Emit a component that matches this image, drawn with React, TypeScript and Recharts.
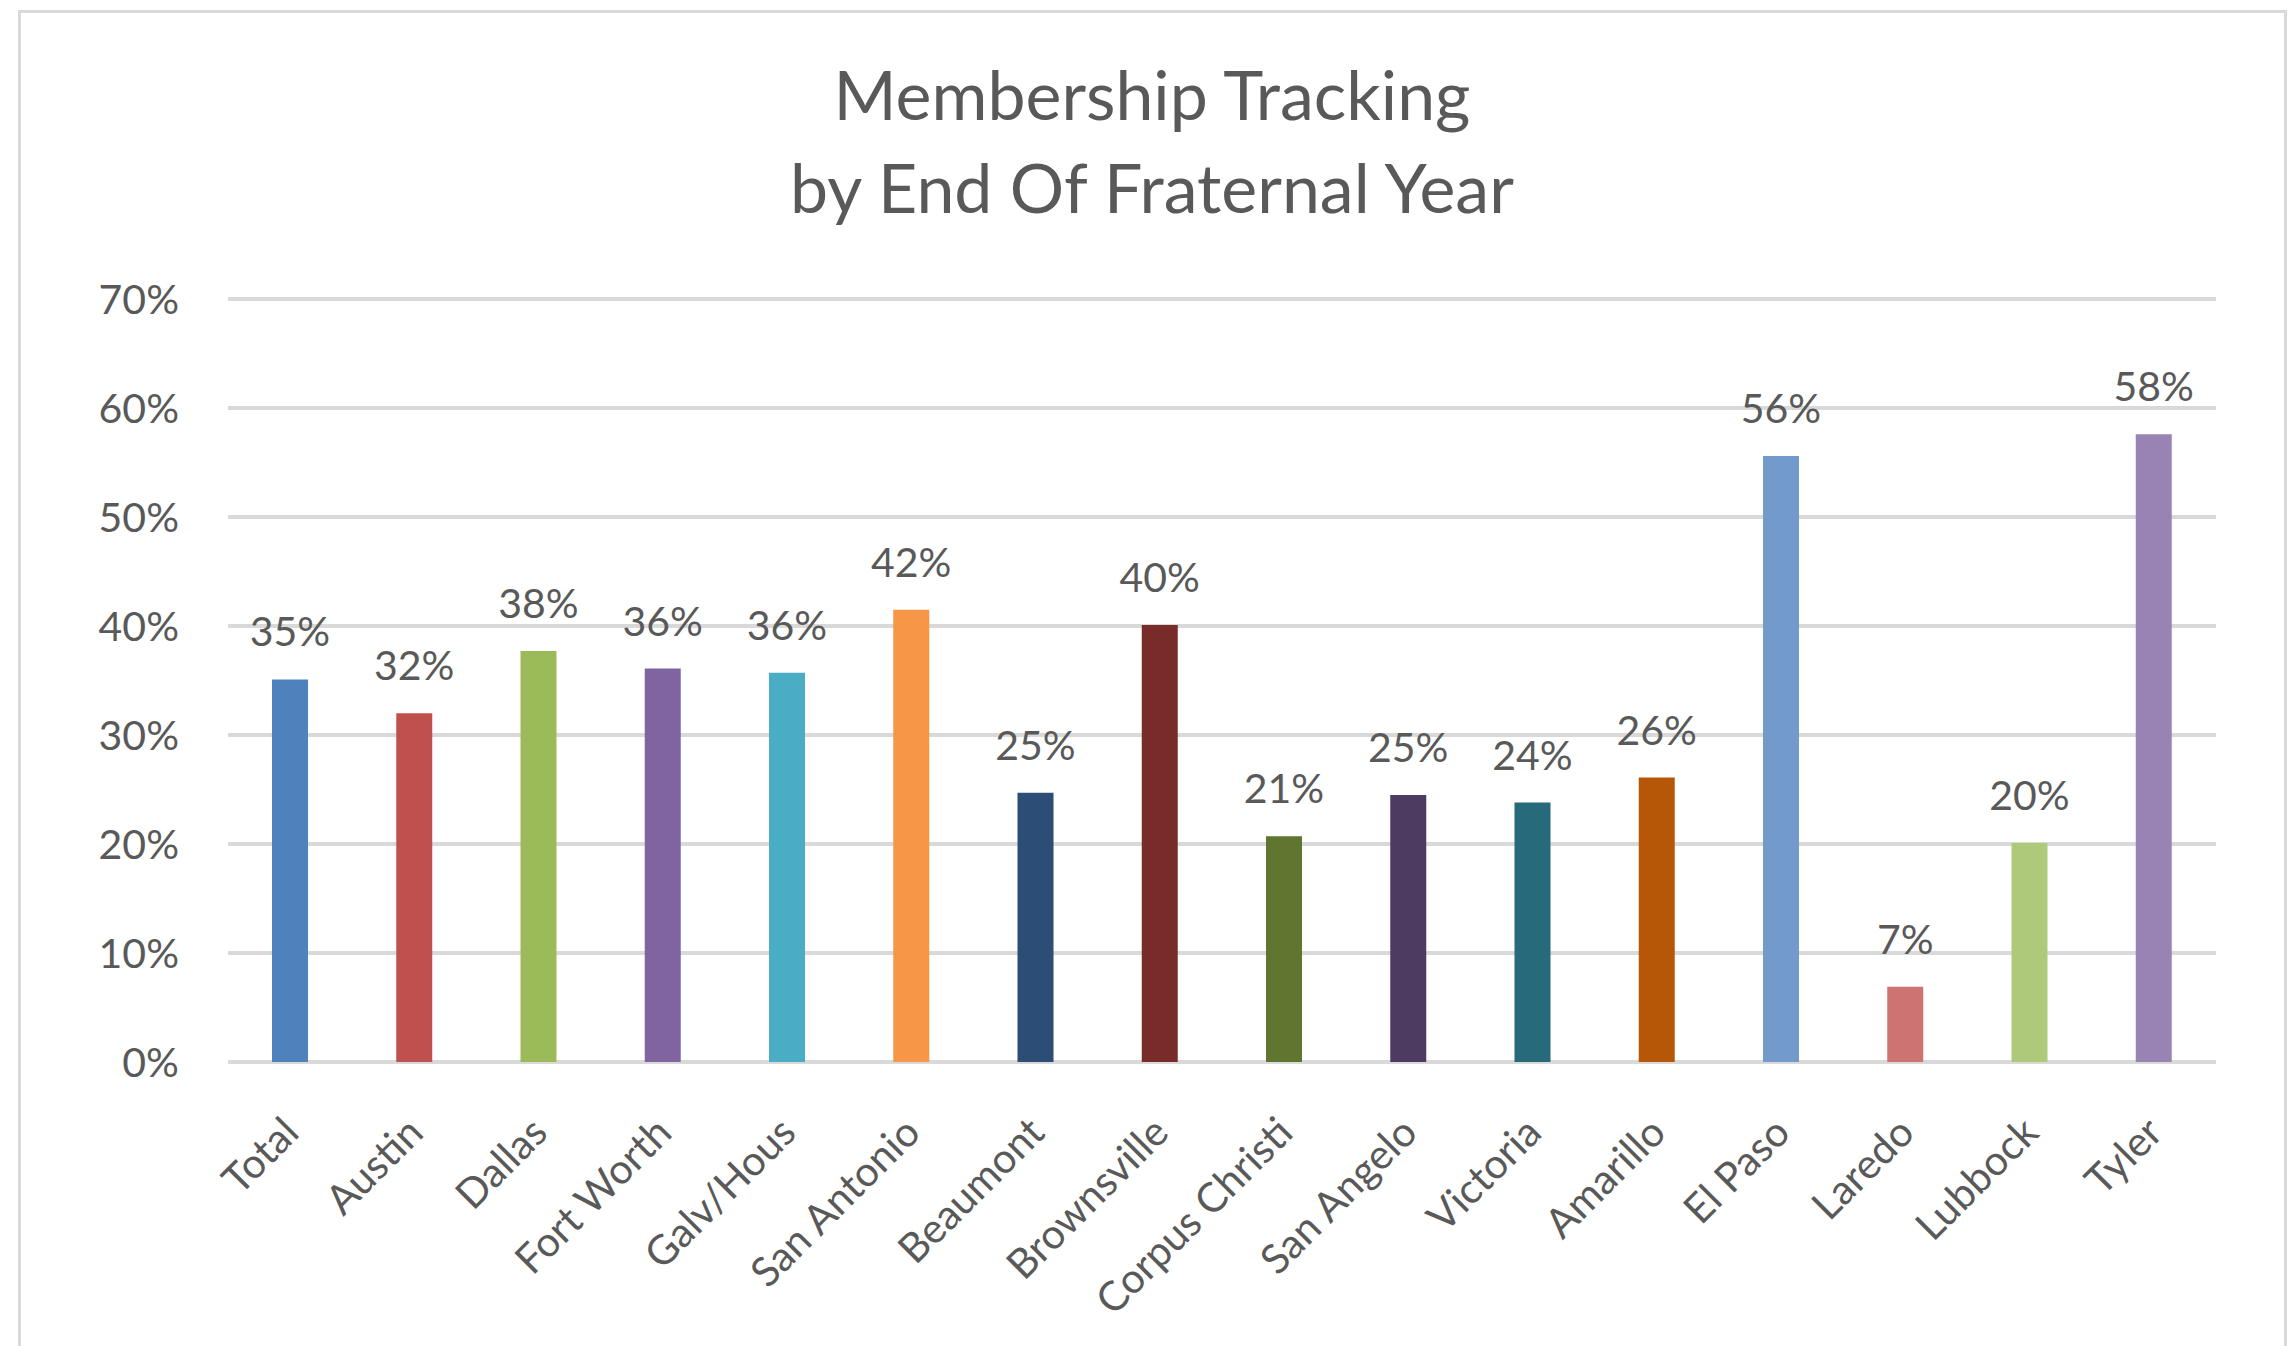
import { Bar, BarChart, CartesianGrid, Cell, LabelList, XAxis, YAxis } from "recharts";

const regions = [
  "Total",
  "Austin",
  "Dallas",
  "Fort Worth",
  "Galv/Hous",
  "San Antonio",
  "Beaumont",
  "Brownsville",
  "Corpus Christi",
  "San Angelo",
  "Victoria",
  "Amarillo",
  "El Paso",
  "Laredo",
  "Lubbock",
  "Tyler",
];

const shares = [0.351, 0.32, 0.377, 0.361, 0.357, 0.415, 0.247, 0.401, 0.207, 0.245, 0.238, 0.261, 0.556, 0.069, 0.201, 0.576];

const barColors = [
  "#4F81BD",
  "#C0504D",
  "#9BBB59",
  "#8064A2",
  "#4BACC6",
  "#F79646",
  "#2C4D75",
  "#772C2A",
  "#5F7530",
  "#4D3B62",
  "#276A7C",
  "#B65708",
  "#729ACA",
  "#CD7371",
  "#AFC97A",
  "#9983B5",
];

const yTicks = [0, 0.1, 0.2, 0.3, 0.4, 0.5, 0.6, 0.7];

const titleLines = ["Membership Tracking", "by End Of Fraternal Year"];

const data = regions.map((name, i) => ({ name, share: shares[i] }));

const textColor = "#595959";
const font = "Lato, 'Open Sans', sans-serif";

const pct = (v: number) => `${Math.round(v * 100)}%`;

function SlantTick({ x, y, payload }: { x?: number; y?: number; payload?: { value: string } }) {
  const tx = (x ?? 0) + 11;
  const ty = (y ?? 0) + 73;
  return (
    <text
      x={tx}
      y={ty}
      transform={`rotate(-45, ${tx}, ${ty})`}
      textAnchor="end"
      fill={textColor}
      fontSize={41}
      fontFamily={font}
    >
      {payload?.value}
    </text>
  );
}

function ValueLabel(props: any) {
  const { x, y, width, value } = props;
  return (
    <text
      x={Number(x) + Number(width) / 2}
      y={Number(y) - 33}
      textAnchor="middle"
      fill={textColor}
      fontSize={41}
      fontFamily={font}
    >
      {pct(Number(value))}
    </text>
  );
}

export default function App() {
  return (
    <div style={{ position: "absolute", left: 0, top: 0, width: 2296, height: 1346, background: "#fff", overflow: "hidden" }}>
      <div
        style={{
          position: "absolute",
          left: 18,
          top: 10,
          width: 2269,
          height: 1400,
          border: "3px solid #d9d9d9",
          boxSizing: "border-box",
        }}
      />
      <svg width={2296} height={260} style={{ position: "absolute", left: 0, top: 0 }}>
        {titleLines.map((line, i) => (
          <text
            key={line}
            x={1152}
            y={120 + i * 93}
            textAnchor="middle"
            fill={textColor}
            fontSize={68}
            fontFamily={font}
          >
            {line}
          </text>
        ))}
      </svg>
      <div style={{ position: "absolute", left: 0, top: 0 }}>
        <BarChart width={2296} height={1346} data={data} margin={{ top: 299, right: 80, bottom: 0, left: 0 }}>
          <CartesianGrid vertical={false} stroke="#d9d9d9" strokeWidth={4} />
          <XAxis
            dataKey="name"
            height={284}
            axisLine={false}
            tickLine={false}
            tickSize={0}
            tickMargin={0}
            interval={0}
            tick={<SlantTick />}
          />
          <YAxis
            width={228}
            domain={[0, 0.7]}
            ticks={yTicks}
            tickFormatter={pct}
            axisLine={false}
            tickLine={false}
            tickSize={0}
            tickMargin={49}
            tick={{ fill: textColor, fontSize: 41, fontFamily: font }}
          />
          <Bar dataKey="share" barSize={36} isAnimationActive={false}>
            {data.map((d, i) => (
              <Cell key={d.name} fill={barColors[i]} />
            ))}
            <LabelList dataKey="share" content={<ValueLabel />} />
          </Bar>
        </BarChart>
      </div>
    </div>
  );
}
